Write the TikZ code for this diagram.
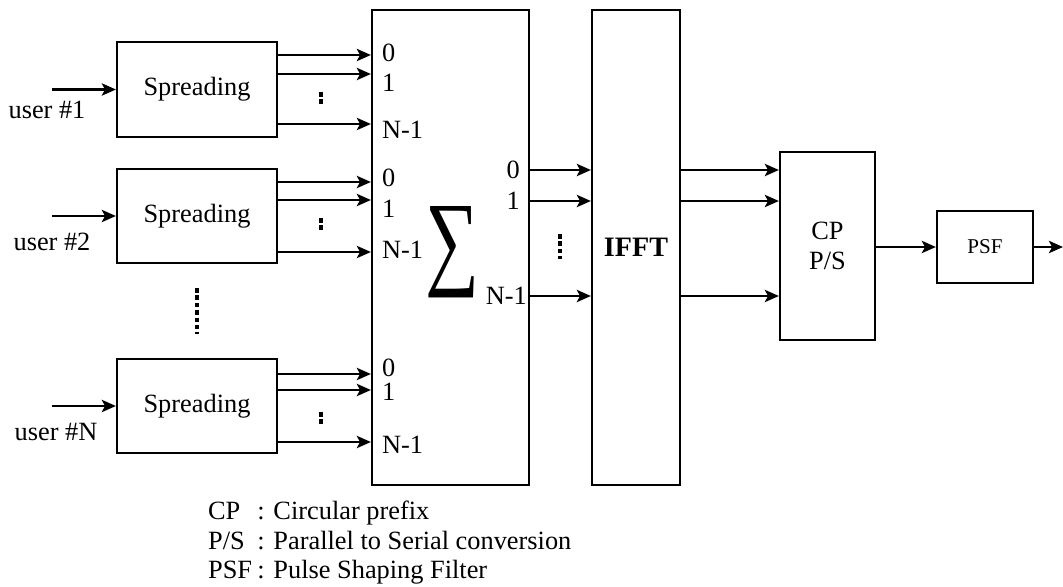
\documentclass[tikz,border=0pt]{standalone}
\usepackage{fontspec}
\setmainfont{Liberation Serif}
\usetikzlibrary{arrows.meta}
\begin{document}
\begin{tikzpicture}[x=0.02cm,y=-0.02cm, line width=1.3pt,
  box/.style={draw, line width=1.3pt, inner sep=0pt, font=\fontsize{15}{17.5}\selectfont, align=center},
  arr/.style={-{Stealth[length=8pt,width=7pt,inset=1.8pt]}},
  lbl/.style={inner sep=0pt, font=\fontsize{15}{18}\selectfont},
  dots/.style={dash pattern=on 2.6pt off 1.6pt, line width=1.8pt}]
\useasboundingbox (0,0) rectangle (1063,587);

% blocks
\node[box, minimum width=3.2cm, minimum height=1.9cm] (s1) at (197,89.5) {Spreading};
\node[box, minimum width=3.2cm, minimum height=1.88cm] (s2) at (197,216) {Spreading};
\node[box, minimum width=3.2cm, minimum height=1.88cm] (s3) at (197,406) {Spreading};
\node[box, minimum width=3.14cm, minimum height=9.5cm] (sum) at (450.5,247.5) {};
\node[box, minimum width=1.76cm, minimum height=9.5cm, font=\fontsize{16}{18}\bfseries] (ifft) at (636,247.5) {IFFT};
\node[box, minimum width=1.9cm, minimum height=3.76cm] (cp) at (827.5,246) {CP\\P/S};
\node[box, minimum width=1.92cm, minimum height=1.44cm, font=\fontsize{12}{14}\selectfont] (psf) at (985,247) {PSF};

% inputs
\coordinate (in1) at (52,89.5);
\coordinate (in2) at (52,216);
\coordinate (in3) at (52,406);
\draw[arr] (in1) -- (s1.west);
\draw[arr] (in2) -- (s2.west);
\draw[arr] (in3) -- (s3.west);
\node[lbl] (u1) at (47,110) {user \#1};
\node[lbl] (u2) at (52,242) {user \#2};
\node[lbl] (u3) at (56,432) {user \#N};

% spreading outputs
\foreach \y in {55,74,124} \draw[arr] (s1.east|-0,\y) -- (sum.west|-0,\y);
\foreach \y in {182,200,252} \draw[arr] (s2.east|-0,\y) -- (sum.west|-0,\y);
\foreach \y in {374,390,442} \draw[arr] (s3.east|-0,\y) -- (sum.west|-0,\y);

% small dots
\draw[dots] (321,92) -- (321,104);
\draw[dots] (321,218) -- (321,230);
\draw[dots] (321,412) -- (321,424);
\draw[dots] (197,288) -- (197,334);

% sum input labels
\node[lbl, anchor=west] (a0) at (381,53) {0};
\node[lbl, anchor=west] (a1) at (381,83) {1};
\node[lbl, anchor=west] (a2) at (381,130) {N-1};
\node[lbl, anchor=west] (b0) at (381,178) {0};
\node[lbl, anchor=west] (b1) at (381,209) {1};
\node[lbl, anchor=west] (b2) at (381,250) {N-1};
\node[lbl, anchor=west] (c0) at (381,368) {0};
\node[lbl, anchor=west] (c1) at (381,392) {1};
\node[lbl, anchor=west] (c2) at (381,445) {N-1};

% sigma
\node[inner sep=0pt] (sig) at (452,252) {\resizebox{1.08cm}{1.38cm}{∑}};

% sum outputs
\node[lbl, anchor=east] (o0) at (521,170) {0};
\node[lbl, anchor=east] (o1) at (521,201) {1};
\node[lbl, anchor=east] (o2) at (528,296) {N-1};
\foreach \y in {170,201,296} \draw[arr] (sum.east|-0,\y) -- (ifft.west|-0,\y);
\draw[dots] (560,234) -- (560,259);

% ifft outputs
\foreach \y in {170,201,296} \draw[arr] (ifft.east|-0,\y) -- (cp.west|-0,\y);
\draw[arr] (cp.east|-0,247) -- (psf.west);
\coordinate (out) at (1063,247);
\draw[arr] (psf.east) -- (out);

% legend
\node[lbl, anchor=north west, font=\fontsize{15}{16.8}\selectfont] (leg) at (207,498) {%
\begin{tabular}{@{}l@{\hspace{3pt}}l@{}}
CP & : Circular prefix\\
P/S & : Parallel to Serial conversion\\
PSF & : Pulse Shaping Filter
\end{tabular}};
\end{tikzpicture}
\end{document}
